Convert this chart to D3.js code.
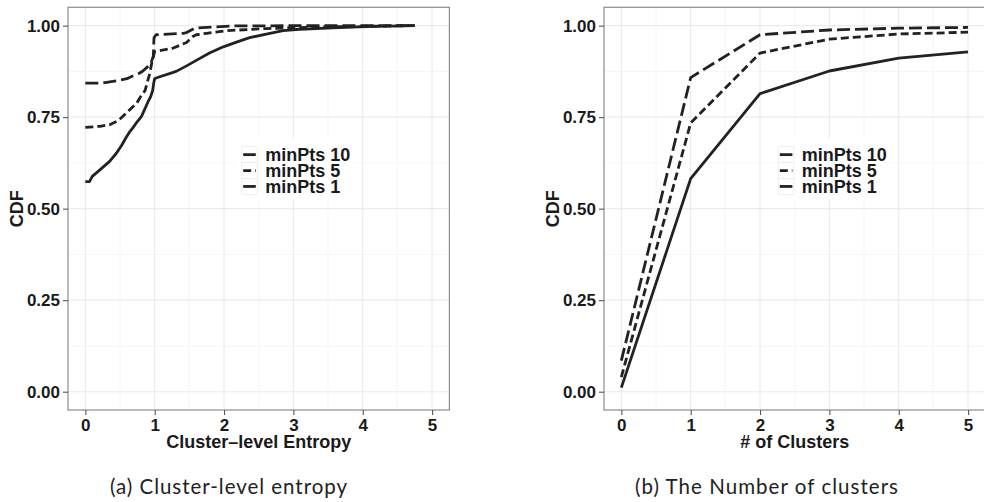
<!DOCTYPE html>
<html><head><meta charset="utf-8">
<script src="https://cdn.jsdelivr.net/npm/d3@7"></script>
<style>body{margin:0;background:#fff}svg{display:block}</style>
</head><body>
<svg id="c" width="984" height="502"></svg>
<script>
// ---- data ----
const seriesNames = ["minPts 10", "minPts 5", "minPts 1"];
const yTicks = [0, 0.25, 0.5, 0.75, 1];
const xTicks = [0, 1, 2, 3, 4, 5];

// panel (a): CDF of cluster-level entropy
const entropyMinPts10 = [[0,0.843],[0.25,0.843],[0.45,0.849],[0.6,0.855],[0.69,0.863],[0.78,0.870],[0.83,0.876],[0.9,0.888],[0.95,0.900],[0.98,0.916],[0.99,0.966],[1.0,0.970],[1.02,0.975],[1.41,0.979],[1.46,0.981],[1.55,0.990],[1.58,0.993],[2.13,0.999],[2.5,0.999],[3.0,1.0],[4.75,1.0]];
const entropyMinPts5 = [[0,0.722],[0.21,0.725],[0.35,0.729],[0.45,0.738],[0.49,0.743],[0.59,0.761],[0.69,0.779],[0.74,0.788],[0.83,0.816],[0.86,0.822],[0.93,0.870],[0.96,0.900],[1.0,0.929],[1.26,0.938],[1.46,0.954],[1.55,0.970],[1.6,0.975],[1.75,0.979],[2.03,0.986],[2.61,0.992],[3.57,0.997],[4.75,1.0]];
const entropyMinPts1 = [[0,0.574],[0.06,0.574],[0.1,0.588],[0.21,0.606],[0.35,0.629],[0.45,0.652],[0.52,0.672],[0.59,0.695],[0.64,0.710],[0.69,0.722],[0.75,0.738],[0.81,0.752],[0.9,0.790],[0.94,0.805],[0.97,0.822],[0.99,0.847],[1.0,0.855],[1.02,0.857],[1.31,0.875],[1.46,0.890],[1.6,0.905],[1.79,0.925],[1.99,0.942],[2.18,0.955],[2.37,0.967],[2.61,0.977],[2.85,0.986],[3.09,0.990],[3.57,0.994],[4.05,0.997],[4.75,1.0]];

// panel (b): CDF of number of clusters
const clusterCounts = [0, 1, 2, 3, 4, 5];
const clustersMinPts10 = [0.085, 0.858, 0.975, 0.988, 0.993, 0.995];
const clustersMinPts5 = [0.04, 0.734, 0.925, 0.963, 0.977, 0.982];
const clustersMinPts1 = [0.011, 0.582, 0.814, 0.876, 0.911, 0.928];

const captions = ["(a) Cluster-level entropy", "(b) The Number of clusters"];
const xTitles = ["Cluster\u2013level Entropy", "# of Clusters"];

// ---- styles ----
const dashes = {"minPts 10": "13,5", "minPts 5": "8,4", "minPts 1": null};

const svg = d3.select("#c");
const FONT = "'Liberation Sans', Arial, Helvetica, sans-serif";

const panels = [
  {left: 68, right: 449.4, caption: captions[0], captionX: 228.5, captionW: 237, xTitle: xTitles[0], legendX: 241.7,
   series: [
     {name: "minPts 10", pts: entropyMinPts10},
     {name: "minPts 5", pts: entropyMinPts5},
     {name: "minPts 1", pts: entropyMinPts1}]},
  {left: 604, right: 985.4, caption: captions[1], captionX: 766.5, captionW: 263, xTitle: xTitles[1], legendX: 778.3,
   series: [
     {name: "minPts 10", pts: clusterCounts.map((c,i)=>[c, clustersMinPts10[i]])},
     {name: "minPts 5", pts: clusterCounts.map((c,i)=>[c, clustersMinPts5[i]])},
     {name: "minPts 1", pts: clusterCounts.map((c,i)=>[c, clustersMinPts1[i]])}]}
];

const pTop = 7.3, pBottom = 410;

panels.forEach((p, pi) => {
  const x = d3.scaleLinear().domain([-0.25, 5.25]).range([p.left, p.right]);
  const y = d3.scaleLinear().domain([-0.05, 1.05]).range([pBottom, pTop]);
  const g = svg.append("g");

  const clipId = "clip" + pi;
  svg.append("clipPath").attr("id", clipId).append("rect")
    .attr("x", p.left).attr("y", pTop).attr("width", p.right - p.left).attr("height", pBottom - pTop);

  g.append("rect").attr("x", p.left).attr("y", pTop).attr("width", p.right - p.left)
    .attr("height", pBottom - pTop).attr("fill", "#fff");

  const xMinor = [0.5, 1.5, 2.5, 3.5, 4.5];
  const yMinor = [0.125, 0.375, 0.625, 0.875];
  g.selectAll(".xmin").data(xMinor).join("line")
    .attr("x1", d => x(d)).attr("x2", d => x(d)).attr("y1", pTop).attr("y2", pBottom)
    .attr("stroke", "#f4f4f4").attr("stroke-width", 0.8);
  g.selectAll(".ymin").data(yMinor).join("line")
    .attr("y1", d => y(d)).attr("y2", d => y(d)).attr("x1", p.left).attr("x2", p.right)
    .attr("stroke", "#f4f4f4").attr("stroke-width", 0.8);
  g.selectAll(".xmaj").data(xTicks).join("line")
    .attr("x1", d => x(d)).attr("x2", d => x(d)).attr("y1", pTop).attr("y2", pBottom)
    .attr("stroke", "#ebebeb").attr("stroke-width", 1.1);
  g.selectAll(".ymaj").data(yTicks).join("line")
    .attr("y1", d => y(d)).attr("y2", d => y(d)).attr("x1", p.left).attr("x2", p.right)
    .attr("stroke", "#ebebeb").attr("stroke-width", 1.1);

  const line = d3.line().x(d => x(d[0])).y(d => y(d[1]));
  p.series.forEach(s => {
    g.append("path").attr("d", line(s.pts)).attr("clip-path", `url(#${clipId})`)
      .attr("fill", "none").attr("stroke", "#222").attr("stroke-width", 2.8)
      .attr("stroke-linejoin", "round")
      .attr("stroke-dasharray", dashes[s.name]);
  });

  const lg = g.append("g");
  const lx = p.legendX, ly = 146.7, kh = 15.9, kw = 15.6;
  lg.append("rect").attr("x", lx - 5.5).attr("y", 138.5).attr("width", 118).attr("height", 61)
    .attr("fill", "#fff");
  seriesNames.forEach((n, i) => {
    lg.append("rect").attr("x", lx).attr("y", ly + i * kh).attr("width", kw).attr("height", kh)
      .attr("fill", "#fff").attr("stroke", "#ececec").attr("stroke-width", 0.8);
    lg.append("line").attr("x1", lx + 1.5).attr("x2", lx + kw - 1.5)
      .attr("y1", ly + i * kh + kh / 2).attr("y2", ly + i * kh + kh / 2)
      .attr("stroke", "#222").attr("stroke-width", 2.8).attr("stroke-dasharray", dashes[n]);
    lg.append("text").attr("x", lx + 23.5).attr("y", ly + i * kh + kh / 2 + 6.3)
      .attr("font-family", FONT).attr("font-weight", "bold").attr("font-size", 18)
      .attr("fill", "#1a1a1a").text(n);
  });

  g.append("rect").attr("x", p.left).attr("y", pTop).attr("width", p.right - p.left)
    .attr("height", pBottom - pTop).attr("fill", "none").attr("stroke", "#8c8c8c").attr("stroke-width", 1.2);

  const ya = g.append("g").attr("transform", `translate(${p.left},0)`)
    .call(d3.axisLeft(y).tickValues(yTicks).tickFormat(d3.format(".2f")).tickSize(5).tickPadding(3));
  const xa = g.append("g").attr("transform", `translate(0,${pBottom})`)
    .call(d3.axisBottom(x).tickValues(xTicks).tickFormat(d3.format("d")).tickSize(5).tickPadding(4));
  [ya, xa].forEach(a => {
    a.select(".domain").remove();
    a.selectAll(".tick line").attr("stroke", "#555").attr("stroke-width", 1.1);
    a.selectAll("text").attr("font-family", FONT).attr("font-weight", "bold")
      .attr("font-size", 17).attr("fill", "#1a1a1a");
  });

  g.append("text").attr("x", (p.left + p.right) / 2).attr("y", 447.5)
    .attr("text-anchor", "middle").attr("font-family", FONT).attr("font-weight", "bold")
    .attr("font-size", 18).attr("fill", "#1a1a1a").text(p.xTitle);
  g.append("text").attr("transform", `translate(${p.left - 45},${(pTop + pBottom) / 2}) rotate(-90)`)
    .attr("text-anchor", "middle").attr("font-family", FONT).attr("font-weight", "bold")
    .attr("font-size", 18).attr("fill", "#1a1a1a").text("CDF");

  svg.append("text").attr("x", p.captionX).attr("y", 493.5).attr("text-anchor", "middle")
    .attr("font-family", "Lato, 'Open Sans', sans-serif").attr("font-size", 20.5)
    .attr("textLength", p.captionW).attr("lengthAdjust", "spacing")
    .attr("fill", "#222").text(p.caption);
});
</script>
</body></html>
